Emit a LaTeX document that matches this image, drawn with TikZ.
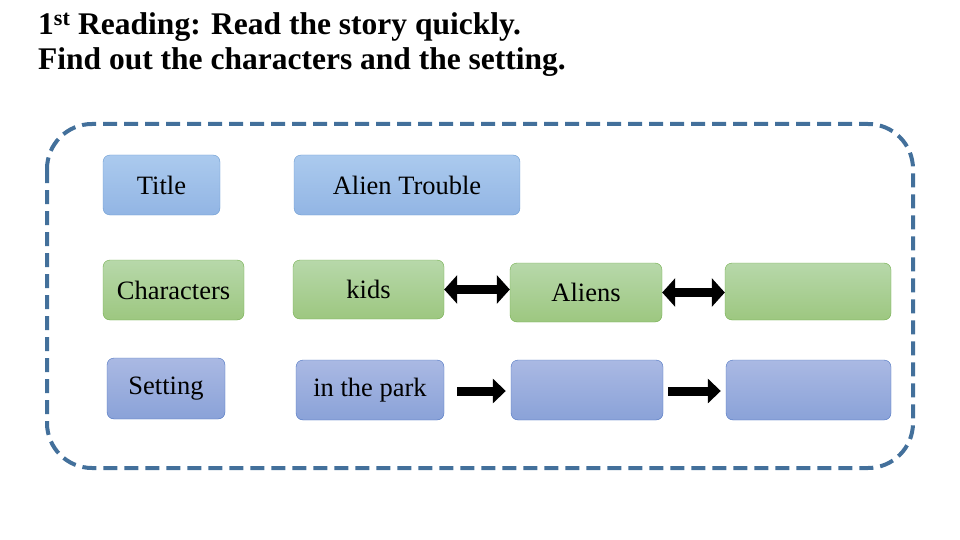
\documentclass[tikz,border=0pt]{standalone}
\usepackage{fontspec}
\setmainfont{Liberation Serif}
\usetikzlibrary{arrows.meta}
\definecolor{gtop}{HTML}{B7D8AA}\definecolor{gbot}{HTML}{9DC780}\definecolor{gbd}{HTML}{71AD4B}
\definecolor{btop}{HTML}{AAB9E3}\definecolor{bbot}{HTML}{8AA2D8}\definecolor{bbd}{HTML}{4A72C0}
\definecolor{ltop}{HTML}{ABCAEE}\definecolor{lbot}{HTML}{92B5E4}\definecolor{lbd}{HTML}{6A9AD0}
\definecolor{frame}{HTML}{43709B}
\tikzset{
 box/.style={rounded corners=7pt,minimum height=60pt,font=\fontsize{26.5}{30}\selectfont,inner sep=0pt},
 gbox/.style={box,draw=gbd,top color=gtop,bottom color=gbot},
 bbox/.style={box,draw=bbd,top color=btop,bottom color=bbot},
 lbox/.style={box,draw=lbd,top color=ltop,bottom color=lbot},
 blk/.style={line width=9pt,-{Triangle[width=24pt,length=13pt]}},
 dblk/.style={line width=9pt,{Triangle[width=28pt,length=13pt]}-{Triangle[width=28pt,length=13pt]}},
}
\begin{document}
\begin{tikzpicture}[x=1pt,y=1pt]
\useasboundingbox (0,0) rectangle (960,-540);
\node[anchor=north west,align=left,font=\bfseries\fontsize{31.5}{35}\selectfont,inner sep=0pt] (hd) at (38,-12)
 {1\textsuperscript{st} Reading: Read the story quickly.\\Find out the characters and the setting.};
\draw[frame,line width=4pt,dash pattern=on 14pt off 7pt,rounded corners=45pt] (47,-124) rectangle (913,-468);
\node[lbox,minimum width=117pt] (title) at (161.5,-185) {Title};
\node[lbox,minimum width=226pt] (at) at (407,-185) {Alien Trouble};
\node[gbox,minimum width=141pt] (ch) at (173.5,-290) {Characters};
\node[gbox,minimum width=151pt,minimum height=59pt] (kids) at (368.5,-289.5) {kids};
\node[gbox,minimum width=152pt,minimum height=59pt] (al) at (586,-292.5) {Aliens};
\node[gbox,minimum width=166pt,minimum height=57pt] (g3) at (808,-291.5) {};
\node[bbox,minimum width=118pt,minimum height=61pt] (set) at (166,-388.5) {Setting};
\node[bbox,minimum width=148pt] (park) at (370,-390) {in the park};
\node[bbox,minimum width=152pt] (b2) at (587,-390) {};
\node[bbox,minimum width=165pt] (b3) at (808.5,-390) {};
\draw[dblk] (kids.east) -- (al.west |- kids.east);
\draw[dblk] (al.east) -- (g3.west |- al.east);
\draw[blk,shorten <=13pt,shorten >=5pt] (park.east) ++(0,-1) coordinate (p1) -- (b2.west |- p1);
\draw[blk,shorten <=5pt,shorten >=5pt] (b2.east) ++(0,-1) coordinate (p3) -- (b3.west |- p3);
\end{tikzpicture}
\end{document}
